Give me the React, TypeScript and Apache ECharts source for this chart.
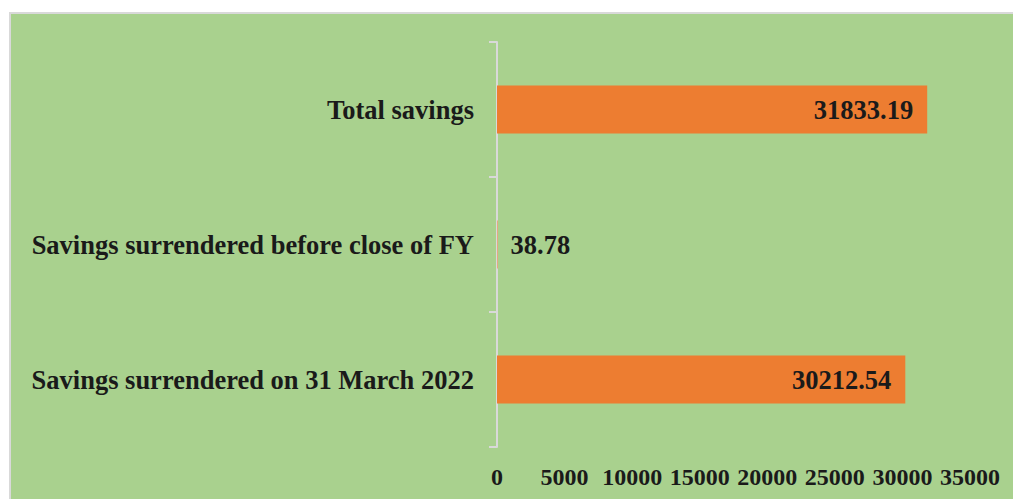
import React, { useEffect, useRef } from "react";
import * as echarts from "echarts";

const categories = [
  "Savings surrendered on 31 March 2022",
  "Savings surrendered before close of FY",
  "Total savings",
];
const values = [30212.54, 38.78, 31833.19];
const axisMin = 0;
const axisMax = 35000;
const axisInterval = 5000;

const FONT = '"Liberation Serif", "Times New Roman", serif';

export default function App() {
  const ref = useRef<HTMLDivElement>(null);
  useEffect(() => {
    if (!ref.current) return;
    const chart = echarts.init(ref.current, undefined, { renderer: "svg" });
    chart.setOption({
      animation: false,
      backgroundColor: "#ffffff",
      graphic: [
        {
          type: "rect",
          z: -10,
          silent: true,
          shape: { x: 10, y: 13, width: 1020, height: 500 },
          style: { fill: "#A9D18E", stroke: "#D9D9D9", lineWidth: 2 },
        },
      ],
      grid: { left: 497, right: 43, top: 42, bottom: 52, containLabel: false },
      xAxis: {
        type: "value",
        min: axisMin,
        max: axisMax,
        interval: axisInterval,
        axisLine: { show: false },
        axisTick: { show: false },
        splitLine: { show: false },
        axisLabel: {
          margin: 18,
          color: "#1a1a1a",
          fontFamily: FONT,
          fontWeight: "bold",
          fontSize: 24,
          formatter: (v: number) => String(v),
        },
      },
      yAxis: {
        type: "category",
        data: categories,
        axisLine: { show: true, lineStyle: { color: "#D9D9D9", width: 2 } },
        axisTick: {
          show: true,
          length: 8,
          alignWithLabel: false,
          lineStyle: { color: "#D9D9D9", width: 2 },
        },
        axisLabel: {
          margin: 23,
          color: "#1a1a1a",
          fontFamily: FONT,
          fontWeight: "bold",
          fontSize: 26.5,
        },
      },
      series: [
        {
          type: "bar",
          barWidth: 48,
          itemStyle: { color: "#ED7D31" },
          data: values.map((v) => ({
            value: v,
            label: {
              show: true,
              position: v < 1000 ? "right" : "insideRight",
              distance: v < 1000 ? 13 : 14,
              formatter: (p: any) => String(p.value),
              color: "#1a1a1a",
              fontFamily: FONT,
              fontWeight: "bold",
              fontSize: 26.5,
            },
          })),
        },
      ],
    });
    return () => chart.dispose();
  }, []);
  return (
    <div
      ref={ref}
      style={{ position: "fixed", left: 0, top: 0, width: 1013, height: 499 }}
    />
  );
}
